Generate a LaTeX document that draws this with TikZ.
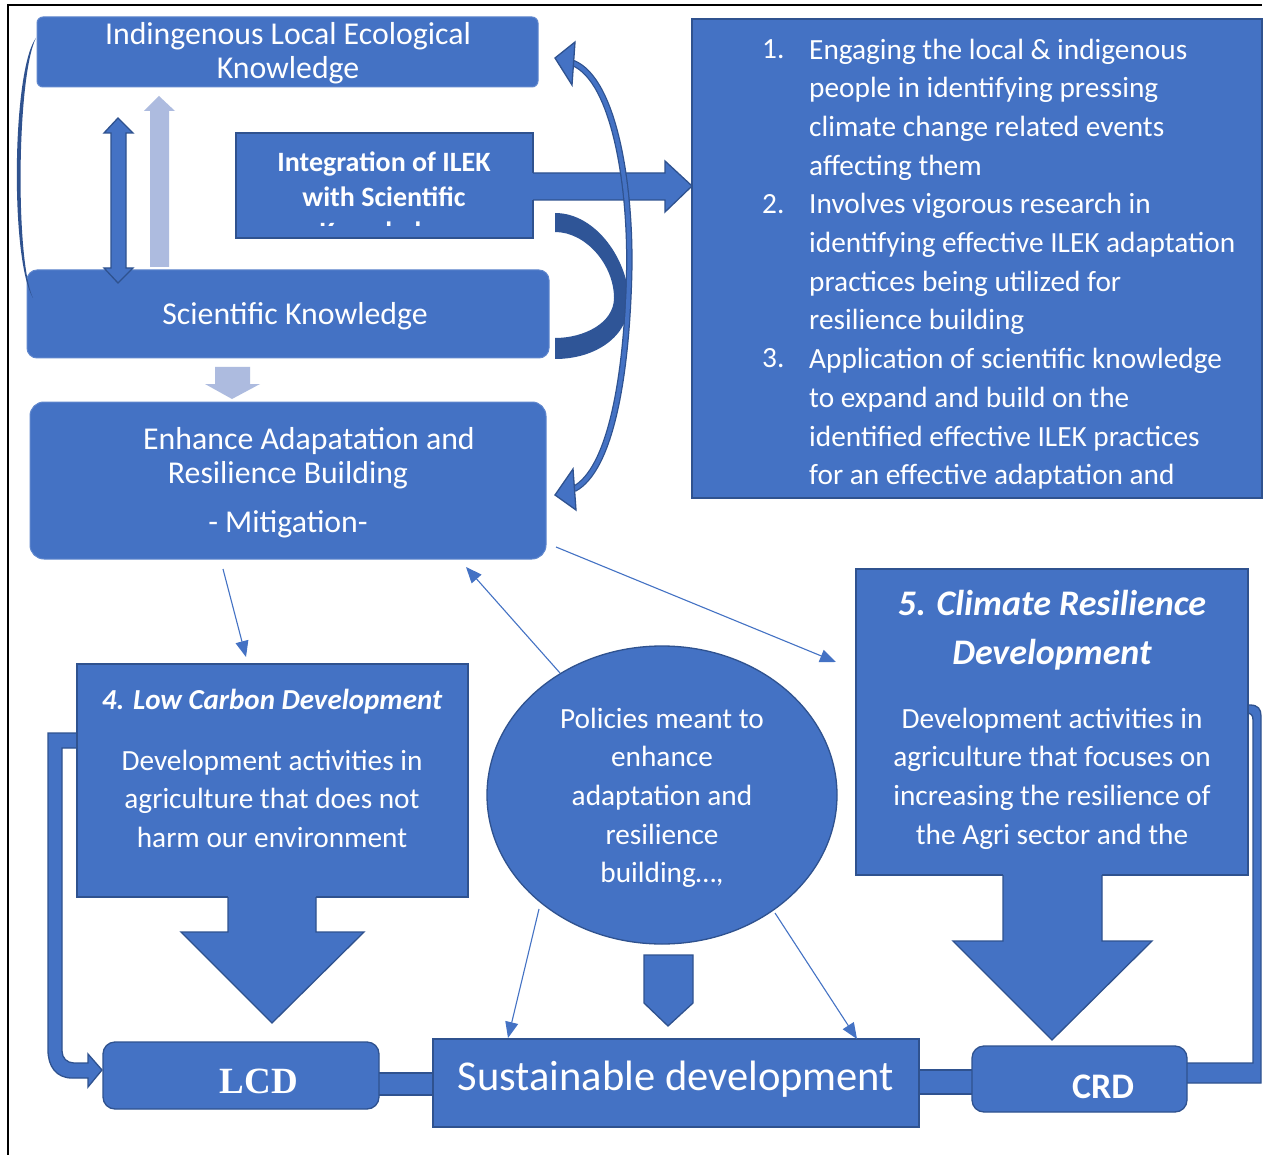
\documentclass[tikz,border=0pt]{standalone}
\usepackage{fontspec}
\setmainfont{Carlito}
\newfontfamily\timesf{Liberation Serif}
\usetikzlibrary{arrows.meta,shapes.geometric}
\definecolor{mb}{HTML}{4472C4}
\definecolor{db}{HTML}{2F528F}
\definecolor{lb}{HTML}{ADBBDF}
\definecolor{cres}{HTML}{2F5597}
\tikzset{
  sqbox/.style={draw=db, fill=mb, line width=1.3, inner sep=0},
  rdbox/.style={draw=mb!85!white, fill=mb, line width=1, inner sep=0},
  blk/.style={fill=mb, draw=db, line width=1.3},
  wt/.style={text=white, inner sep=0, anchor=base, align=center},
  fbody/.style={font=\fontsize{29.3}{38.7}\selectfont},
  thinarr/.style={draw=mb, line width=1.1, -{Triangle[length=16,width=13]}},
}
\begin{document}
\begin{tikzpicture}[x=1pt,y=-1pt]
\useasboundingbox (0,0) rectangle (1266,1155);
\fill[white] (0,0) rectangle (1266,1155);
% frame
\draw[black, line width=2] (8,1155) -- (8,5) -- (1262,5);

% ---------- top-left column ----------
\node[rdbox, rounded corners=6, minimum width=501, minimum height=70] (ilek) at (287.5,52) {};
\node[wt, font=\fontsize{31.8}{33.5}\selectfont] (ilekT) at (288,78.5) {Indingenous Local Ecological\\Knowledge};

\node[rdbox, rounded corners=10, minimum width=522, minimum height=88] (sk) at (288,314) {};
\node[wt, font=\fontsize{31.8}{34}\selectfont] (skT) at (295,325) {Scientific Knowledge};

\node[rdbox, rounded corners=14, minimum width=516, minimum height=157] (enh) at (288,480.5) {};
\node[wt, font=\fontsize{31.8}{34}\selectfont] (enh1) at (309,449) {Enhance Adapatation and};
\node[wt, font=\fontsize{31.8}{34}\selectfont] (enh2) at (288,483) {Resilience Building};
\node[wt, font=\fontsize{31.8}{34}\selectfont] (enh3) at (288,532) {- Mitigation-};

% left thin crescent
\fill[db] (36,38) .. controls (12,70) and (10,260) .. (33,298)
          .. controls (15,260) and (17,75) .. (36,38) -- cycle;

% double vertical arrow
\draw[blk] (118,118) -- (133,133) -- (126,133) -- (126,268) -- (133,268) -- (118,283)
  -- (104,268) -- (111,268) -- (111,133) -- (104,133) -- cycle;
% light up arrow
\fill[lb] (150,267) -- (150,111) -- (144,111) -- (159,96) -- (175,111) -- (169,111) -- (169,267) -- cycle;
% light down arrow
\fill[lb] (215,367) -- (250,367) -- (250,384) -- (260,384) -- (232,399) -- (205,384) -- (215,384) -- cycle;

% integration box
\node[sqbox, minimum width=297, minimum height=105] (int) at (384.5,185.5) {};
\begin{scope}
  \clip (236,133) rectangle (533,226);
  \node[wt, font=\bfseries\fontsize{28}{35}\selectfont] (intT) at (384,242) {Integration of ILEK\\with Scientific\\Knowledge};
\end{scope}
% big right arrow
\fill[mb] (531,173) -- (665,173) -- (665,161) -- (692,186) -- (665,212) -- (665,200) -- (531,200) -- cycle;
\draw[db, line width=1.3] (533,173) -- (665,173) -- (665,161) -- (692,186) -- (665,212) -- (665,200) -- (533,200);

% dark crescent
\fill[cres] (555,213) .. controls (597,213) and (629,262) .. (629,302)
   .. controls (629,336) and (596,359) .. (555,359) -- (555,338)
   .. controls (584,338) and (614,323) .. (614,298)
   .. controls (614,265) and (586,232) .. (555,232) -- cycle;

% curved double arrow
\draw[db, line width=6.5] (573,63) .. controls (615,80) and (632,190) .. (629,280)
   .. controls (626,380) and (610,470) .. (574,489);
\draw[mb, line width=4] (573,63) .. controls (615,80) and (632,190) .. (629,280)
   .. controls (626,380) and (610,470) .. (574,489);
\draw[blk] (555,58) -- (575,42) -- (572,85) -- cycle;
\draw[blk] (555,495) -- (573,469) -- (576,510) -- cycle;

% ---------- list box ----------
\node[sqbox, minimum width=570, minimum height=479] (list) at (977,258.5) {};
\begin{scope}
  \clip (693,20) rectangle (1261,497);
  \node[wt, fbody, anchor=base west] (n1) at (762,59) {1.};
  \node[wt, fbody, anchor=base west] (n2) at (762,213.4) {2.};
  \node[wt, fbody, anchor=base west] (n3) at (762,367.8) {3.};
  \node[wt, fbody, anchor=base west, align=left] (items) at (809,523.4) {Engaging the local \& indigenous\\people in identifying pressing\\climate change related events\\affecting them\\Involves vigorous research in\\identifying effective ILEK adaptation\\practices being utilized for\\resilience building\\Application of scientific knowledge\\to expand and build on the\\identified effective ILEK practices\\for an effective adaptation and\\resilience building};
\end{scope}

% ---------- bottom connectors (drawn first) ----------
% left elbow arrow
\draw[blk] (79,733) -- (48,733) -- (48,1050) .. controls (48,1066) and (56,1078) .. (72,1078)
  -- (88,1078) -- (88,1087) -- (102,1070) -- (88,1054) -- (88,1063) -- (74,1063)
  .. controls (67,1063) and (62,1058) .. (62,1051) -- (62,748) -- (79,748);
% right elbow
\draw[blk] (1185,1063) -- (1253,1063) -- (1253,720) .. controls (1253,715) and (1251,713) .. (1246,713)
  -- (1246,705) -- (1250,705) .. controls (1258,705) and (1261,709) .. (1261,716)
  -- (1261,1083) -- (1185,1083);
% bars
\draw[blk] (376,1073) rectangle (436,1095);
\draw[blk] (916,1070) rectangle (975,1094);

% LCD big box and arrow
\node[sqbox, minimum width=391, minimum height=233] (lcdbig) at (272.5,780.5) {};
\fill[mb] (228,895) -- (228,932) -- (181,932) -- (272,1023) -- (364,932) -- (316,932) -- (316,895) -- cycle;
\draw[db, line width=1.3] (228,897) -- (228,932) -- (181,932) -- (272,1023) -- (364,932) -- (316,932) -- (316,897);
\node[wt, font=\bfseries\itshape\fontsize{29}{35}\selectfont] (lcdTitle) at (272,709) {4. Low Carbon Development};
\node[wt, fbody] (lcdBody) at (272,847.4) {Development activities in\\agriculture that does not\\harm our environment};

% CRD big box and arrow
\node[sqbox, minimum width=392, minimum height=306] (crdbig) at (1052,722) {};
\fill[mb] (1003,873) -- (1003,941) -- (953,941) -- (1052,1040) -- (1152,941) -- (1102,941) -- (1102,873) -- cycle;
\draw[db, line width=1.3] (1003,875) -- (1003,941) -- (953,941) -- (1052,1040) -- (1152,941) -- (1102,941) -- (1102,875);
\node[wt, font=\bfseries\itshape\fontsize{36}{49}\selectfont] (crdTitle) at (1052,664) {5. Climate Resilience\\Development};
\node[wt, fbody] (crdBody) at (1052,844.1) {Development activities in\\agriculture that focuses on\\increasing the resilience of\\the Agri sector and the};

% circle
\node[ellipse, draw=db, fill=mb, line width=1.3, minimum width=350, minimum height=298, inner sep=0] (pol) at (662,795) {};
\node[wt, fbody] (polT) at (662,882.8) {Policies meant to\\enhance\\adaptation and\\resilience\\building\dots,};

% pentagon arrow
\draw[blk] (644,955) -- (693,955) -- (693,1003) -- (668,1026) -- (644,1003) -- cycle;

% bottom boxes
\node[sqbox, minimum width=486, minimum height=88] (sust) at (676,1083) {};
\node[wt, font=\fontsize{42.5}{45}\selectfont] (sustT) at (676,1090) {Sustainable development};
\node[sqbox, rounded corners=12, minimum width=276, minimum height=67] (lcd) at (241,1075.5) {};
\node[wt, font=\timesf\bfseries\fontsize{37}{40}\selectfont] (lcdT) at (259,1093) {LCD};
\node[sqbox, rounded corners=12, minimum width=215, minimum height=66] (crd) at (1079.5,1079) {};
\node[wt, font=\bfseries\fontsize{36}{40}\selectfont] (crdT) at (1103,1098) {CRD};

% thin arrows
\coordinate (a1s) at (223,569); \coordinate (a1e) at (246,657);
\coordinate (a2s) at (560,673); \coordinate (a2e) at (466,567);
\coordinate (a3s) at (556,547); \coordinate (a3e) at (836,662);
\coordinate (a4s) at (539,909); \coordinate (a4e) at (508,1038);
\coordinate (a5s) at (775,913); \coordinate (a5e) at (857,1039);
\draw[thinarr] (a1s) -- (a1e);
\draw[thinarr] (a2s) -- (a2e);
\draw[thinarr] (a3s) -- (a3e);
\draw[thinarr] (a4s) -- (a4e);
\draw[thinarr] (a5s) -- (a5e);
\end{tikzpicture}
\end{document}
